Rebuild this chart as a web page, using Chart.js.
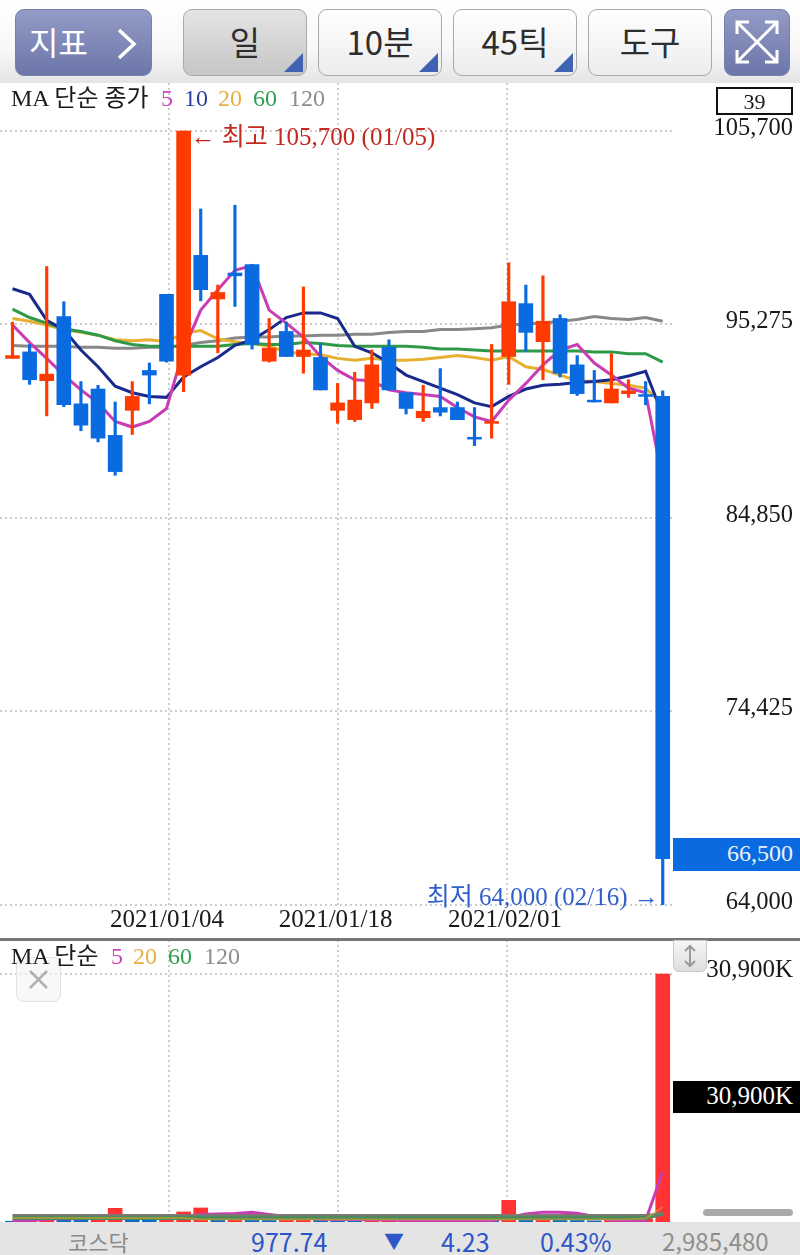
<!DOCTYPE html>
<html lang="ko">
<head>
<meta charset="utf-8">
<title>일봉 차트</title>
<script src="https://cdn.jsdelivr.net/npm/chart.js@4"></script>
<style>
  html, body { margin: 0; padding: 0; background: #fff; }
  #page { position: relative; width: 800px; height: 1255px; overflow: hidden; font-family: "Liberation Serif", "Noto Sans CJK KR", serif; color: #1a1a1a; }
  #page > * { position: absolute; }
  canvas { display: block; }
  #toolbar { left: 0; top: 0; width: 800px; height: 83px; background: linear-gradient(#fff 0%, #f8f8f8 60%, #e4e4e4 100%); }
  .btn { position: absolute; top: 9px; height: 65px; width: 122px; border: 1px solid #a9a9a9; border-radius: 9px; background: linear-gradient(#fff, #ececec); font: 400 33px/62px "Noto Sans CJK KR", sans-serif; color: #2e2e2e; text-align: center; box-sizing: content-box; }
  .btn.on { background: linear-gradient(#e4e4e4, #c6c6c6); }
  .btn.blue { background: linear-gradient(#939bc6, #6c76a8); border-color: #7780ad; color: #fff; }
  .btn i { position: absolute; right: 3px; bottom: 3px; width: 0; height: 0; border-left: 19px solid transparent; border-bottom: 19px solid #3f62b2; }
  .legend { font-size: 24px; line-height: 28px; white-space: nowrap; }
  .tag { left: 673px; width: 120px; padding-right: 7px; text-align: right; font-size: 24px; color: #fff; }
  #statusbar { left: 0; top: 1222px; width: 800px; height: 33px; background: #e4e4e4; }
  #statusbar span { position: absolute; top: 1px; line-height: 36px; font-family: "Noto Sans CJK KR", Roboto, sans-serif; white-space: nowrap; }
</style>
</head>
<body>
<div id="page">
  <canvas id="priceChart" width="800" height="855" style="left:0;top:83px"></canvas>
  <canvas id="volumeChart" width="800" height="282" style="left:0;top:940px"></canvas>

  <div id="toolbar">
    <div class="btn blue" style="left:15px;width:135px;text-align:left;font-size:32px"><span style="position:absolute;left:13px">지표</span>
      <svg style="position:absolute;left:100px;top:18px" width="22" height="32"><polyline points="3,2 18,16 3,30" fill="none" stroke="#fff" stroke-width="3.5"/></svg></div>
    <div class="btn on" style="left:183px">일<i></i></div>
    <div class="btn" style="left:318px">10분<i></i></div>
    <div class="btn" style="left:453px">45틱<i></i></div>
    <div class="btn" style="left:588px">도구</div>
    <div class="btn blue" style="left:724px;width:64px">
      <svg style="position:absolute;left:10px;top:10px" width="44" height="44" fill="none" stroke="#fff" stroke-width="3">
        <path d="M2 14V2H14M30 2H42V14M42 30V42H30M14 42H2V30M3 3L41 41M41 3L3 41"/>
      </svg>
    </div>
  </div>

  <div class="legend" style="left:11px;top:84px">MA 단순 종가</div>
  <div class="legend" style="left:161px;top:84px;color:#cf45b8">5</div>
  <div class="legend" style="left:184px;top:84px;color:#2a3f9e">10</div>
  <div class="legend" style="left:218px;top:84px;color:#e5b040">20</div>
  <div class="legend" style="left:253px;top:84px;color:#2f9e50">60</div>
  <div class="legend" style="left:289px;top:84px;color:#8c8c8c">120</div>
  <div style="left:716px;top:87px;width:73px;height:24px;border:2px solid #111;text-align:center;font-size:22px;line-height:25px">39</div>
  <div class="tag" style="top:838px;height:33px;line-height:31px;background:#0a6be0;color:#e8f1ff">66,500</div>

  <div style="left:0;top:938px;width:800px;height:2.5px;background:#777"></div>
  <div style="left:16px;top:957px;width:43px;height:43px;border:1px solid #e2e2e2;border-radius:8px;background:rgba(244,244,244,.65)">
    <svg width="43" height="43" stroke="#b0b0b0" stroke-width="2.5"><path d="M13 13L30 30M30 13L13 30"/></svg>
  </div>
  <div class="legend" style="left:11px;top:942px">MA 단순</div>
  <div class="legend" style="left:111px;top:942px;color:#cf45b8">5</div>
  <div class="legend" style="left:133px;top:942px;color:#e5b040">20</div>
  <div class="legend" style="left:168px;top:942px;color:#2f9e50">60</div>
  <div class="legend" style="left:204px;top:942px;color:#8c8c8c">120</div>
  <div class="tag" style="top:1081px;height:32px;line-height:30px;background:#000;font-size:25px">30,900K</div>
  <div style="left:673px;top:940px;width:32px;height:30px;border:1px solid #c8c8c8;border-radius:0 0 6px 6px;background:linear-gradient(#f6f6f6,#dedede)">
    <svg width="32" height="30" fill="none" stroke="#9a9a9a" stroke-width="2"><path d="M16 5V25M11 10L16 5L21 10M11 20L16 25L21 20"/></svg>
  </div>
  <div style="left:703px;top:1209px;width:90px;height:7px;border-radius:4px;background:#aaa"></div>

  <div id="statusbar">
    <span style="left:68px;color:#8a8a8a;font-size:22px">코스닥</span>
    <span style="left:251px;color:#2b55c8;font-size:25px">977.74</span>
    <span style="left:384px;color:#2b55c8;font-size:20px">▼</span>
    <span style="left:441px;color:#2b55c8;font-size:25px">4.23</span>
    <span style="left:540px;color:#2b55c8;font-size:25px">0.43%</span>
    <span style="left:662px;color:#8f8f8f;font-size:24px">2,985,480</span>
  </div>
</div>

<script>
const dates = [
  "2020/12/17", "2020/12/18", "2020/12/21", "2020/12/22", "2020/12/23", "2020/12/24", "2020/12/28", "2020/12/29", "2020/12/30",
  "2021/01/04", "2021/01/05", "2021/01/06", "2021/01/07", "2021/01/08", "2021/01/11", "2021/01/12", "2021/01/13", "2021/01/14", "2021/01/15",
  "2021/01/18", "2021/01/19", "2021/01/20", "2021/01/21", "2021/01/22", "2021/01/25", "2021/01/26", "2021/01/27", "2021/01/28", "2021/01/29",
  "2021/02/01", "2021/02/02", "2021/02/03", "2021/02/04", "2021/02/05", "2021/02/08", "2021/02/09", "2021/02/10", "2021/02/15", "2021/02/16"
];
const opens = [93450, 93800, 92250, 95700, 91000, 91800, 89300, 90650, 92800, 96900, 92550, 99000, 96650, 98050, 98500, 93300, 94900, 93550, 93500, 90650, 90150, 91050, 94050, 91600, 90250, 90800, 90800, 89200, 89950, 93550, 96400, 94350, 95600, 93100, 91200, 91050, 91550, 91500, 91400];
const highs = [95400, 94200, 98400, 96500, 92200, 92000, 91100, 92200, 93200, 96900, 105700, 101500, 97400, 101700, 98500, 95600, 95400, 97300, 94250, 92100, 92700, 93900, 94450, 91600, 92000, 92900, 91100, 90800, 94200, 98600, 97400, 97900, 95800, 93600, 92800, 93700, 92300, 92200, 91700];
const lows = [93450, 92050, 90350, 90850, 89550, 88950, 87150, 89350, 91000, 93250, 91650, 96550, 93750, 96250, 93950, 93250, 93550, 92650, 91750, 89950, 90050, 90750, 91750, 90450, 90050, 90350, 90150, 88750, 89150, 92050, 93850, 92300, 92450, 91450, 91100, 91050, 91350, 90950, 64000];
const closes = [93600, 92300, 92600, 90950, 89850, 89150, 87350, 91400, 92550, 93300, 105700, 97150, 97000, 97900, 94200, 94000, 93550, 93900, 91750, 91050, 91200, 93100, 91750, 90750, 90600, 90550, 90150, 89100, 90050, 96500, 94850, 95450, 92650, 91550, 91100, 91800, 91700, 91400, 66500];

const ma5 = [95250, 94300, 93450, 92550, 91750, 91050, 90050, 89750, 90050, 90750, 93900, 96050, 97150, 98200, 98450, 96050, 95350, 94600, 93550, 92800, 92300, 92250, 91750, 91600, 91500, 91400, 90800, 90300, 90050, 91200, 92100, 93100, 93900, 94200, 93200, 92550, 91850, 91600, 86900];
const ma10 = [97200, 96900, 95500, 95000, 93900, 93000, 91950, 91600, 91400, 91350, 92450, 93000, 93500, 94150, 94450, 95000, 95650, 95900, 95900, 95600, 94100, 93750, 93200, 92550, 92200, 91850, 91500, 91050, 90850, 91400, 91800, 92000, 92050, 92150, 92200, 92300, 92500, 92750, 90400];
const ma20 = [95600, 95450, 95250, 95000, 94850, 94700, 94450, 94400, 94450, 94350, 94800, 94950, 94500, 94350, 94250, 94100, 93800, 93700, 93650, 93450, 93350, 93450, 93350, 93350, 93400, 93500, 93600, 93500, 93350, 93550, 93000, 92850, 92550, 92250, 92200, 92100, 92000, 91850, 90950];
const ma60 = [96100, 95650, 95350, 95050, 94900, 94700, 94400, 94200, 94100, 94100, 94100, 94100, 94100, 94200, 94250, 94200, 94200, 94300, 94250, 94150, 94100, 94100, 94100, 94100, 94050, 93950, 93950, 93900, 93850, 93850, 93850, 93850, 93850, 93850, 93800, 93800, 93700, 93700, 93250];
const ma120 = [94150, 94100, 94100, 94100, 94050, 94050, 94000, 94000, 94050, 94050, 94150, 94300, 94400, 94550, 94600, 94600, 94650, 94650, 94700, 94700, 94750, 94750, 94850, 94900, 94900, 95000, 95000, 95050, 95100, 95250, 95300, 95350, 95450, 95550, 95700, 95600, 95550, 95650, 95450];

const volumes = [100, 300, 500, 400, 400, 500, 1700, 400, 400, 600, 1250, 1750, 600, 600, 500, 200, 200, 500, 400, 300, 200, 400, 400, 400, 400, 400, 200, 400, 200, 2700, 500, 500, 400, 200, 150, 400, 400, 400, 30900];
const volumeUp = [0, 1, 1, 0, 0, 1, 1, 0, 0, 1, 1, 1, 0, 1, 0, 0, 1, 1, 0, 0, 0, 1, 1, 1, 1, 1, 0, 1, 0, 1, 0, 1, 0, 0, 0, 1, 1, 1, 1];
const volMa5 = [100, 200, 350, 400, 400, 500, 600, 600, 650, 600, 700, 950, 1000, 1050, 1200, 950, 700, 500, 350, 300, 300, 280, 250, 200, 200, 200, 200, 200, 190, 560, 1000, 1230, 1230, 1100, 700, 190, 190, 190, 6250];
const volMa20 = [500, 500, 500, 500, 500, 500, 500, 500, 500, 500, 500, 300, 300, 300, 300, 300, 300, 300, 300, 300, 300, 300, 300, 300, 300, 300, 300, 300, 300, 300, 300, 300, 300, 300, 300, 300, 300, 430, 1850];
const volMa60 = [530, 530, 530, 530, 530, 530, 530, 530, 530, 530, 530, 530, 530, 530, 530, 530, 530, 530, 530, 530, 530, 530, 530, 530, 530, 530, 530, 530, 530, 530, 530, 530, 530, 530, 530, 530, 530, 530, 1070];
const volMa120 = [870, 870, 870, 870, 870, 870, 870, 870, 870, 870, 870, 870, 870, 870, 870, 870, 870, 870, 870, 870, 870, 870, 870, 870, 870, 870, 870, 870, 870, 870, 870, 870, 870, 870, 870, 870, 870, 870, 1100];

const priceTicks = [64000, 74425, 84850, 95275, 105700];
const volumeTicks = [30900];
const gridPositions = [9.15, 19, 28.9];   // vertical grid sits a hair off the candles in the app
const gridLabels = [dates[9], dates[19], dates[29]];

const RED = "#ff3a00";
const BLUE = "#0a6be0";
const SERIF = '"Liberation Serif", "Noto Sans CJK KR", serif';
const xMin = -0.73;
const xMax = 38.6;

const candleColors = closes.map((c, i) => (c >= opens[i] ? RED : BLUE));
const toXY = (values) => values.map((v, i) => ({ x: i, y: v }));

function maLine(label, values, color, width, order) {
  return { type: "line", label, data: toXY(values), borderColor: color, borderWidth: width, pointRadius: 0, tension: 0, order };
}

const gridStyle = { color: "#cdcdcd", lineWidth: 2, drawTicks: false, offset: false };
const dashStyle = { display: false, dash: [2, 3] };

function xAxis(showLabels, height) {
  return {
    type: "linear",
    offset: false,
    min: xMin,
    max: xMax,
    grid: gridStyle,
    border: dashStyle,
    afterBuildTicks: (scale) => { scale.ticks = gridPositions.map((v) => ({ value: v })); },
    afterFit: (scale) => { scale.height = height; },
    ticks: {
      display: showLabels,
      autoSkip: false,
      maxRotation: 0,
      padding: 0,
      labelOffset: -2,
      color: "#1a1a1a",
      font: { family: SERIF, size: 25 },
      callback: (value, index) => gridLabels[index]
    }
  };
}

function yAxis(tickValues, min, max, fontSize, offset, format) {
  return {
    position: "right",
    min,
    max,
    grid: gridStyle,
    border: dashStyle,
    afterBuildTicks: (scale) => { scale.ticks = tickValues.map((v) => ({ value: v })); },
    afterFit: (scale) => {
      scale.width = 120;
      scale.paddingTop = 0;
      scale.paddingBottom = 0;
    },
    ticks: {
      padding: 0,
      labelOffset: offset,
      crossAlign: "far",
      color: "#1a1a1a",
      font: { family: SERIF, size: fontSize },
      callback: format
    }
  };
}

// high / low call-outs, placed from the data
const extremesPlugin = {
  id: "extremes",
  afterDatasetsDraw(chart) {
    const { ctx, scales: { x, y } } = chart;
    const hi = highs.indexOf(Math.max(...highs));
    const lo = lows.indexOf(Math.min(...lows));
    ctx.save();
    ctx.font = "25px " + SERIF;
    ctx.textBaseline = "middle";
    ctx.fillStyle = "#c4291f";
    ctx.textAlign = "left";
    ctx.fillText("← 최고 " + highs[hi].toLocaleString("en-US") + " (" + dates[hi].slice(5) + ")", x.getPixelForValue(hi) + 7, y.getPixelForValue(highs[hi]) + 7);
    ctx.fillStyle = "#2f5fc9";
    ctx.textAlign = "right";
    ctx.fillText("최저 " + lows[lo].toLocaleString("en-US") + " (" + dates[lo].slice(5) + ") →", x.getPixelForValue(lo) - 4, y.getPixelForValue(lows[lo]) - 7);
    ctx.restore();
  }
};

new Chart(document.getElementById("priceChart"), {
  type: "bar",
  plugins: [extremesPlugin],
  data: {
    datasets: [
      { label: "wick", data: dates.map((d, i) => ({ x: i, y: [lows[i], highs[i]] })), backgroundColor: candleColors, barThickness: 2.5, grouped: false, borderSkipped: false, order: 1 },
      { label: "body", data: dates.map((d, i) => ({ x: i, y: [opens[i], closes[i]] })), backgroundColor: candleColors, barThickness: 14, grouped: false, borderSkipped: false, order: 0 },
      maLine("MA5", ma5, "#c83cb4", 3, 2),
      maLine("MA10", ma10, "#1a2a8c", 3, 3),
      maLine("MA20", ma20, "#e8b030", 3, 5),
      maLine("MA60", ma60, "#2e9a48", 3, 4),
      maLine("MA120", ma120, "#888888", 3, 6)
    ]
  },
  options: {
    responsive: false,
    animation: false,
    layout: { autoPadding: false, padding: { right: 7 } },
    plugins: { legend: { display: false }, tooltip: { enabled: false } },
    scales: {
      x: xAxis(true, 33),
      y: yAxis(priceTicks, 64000, 108286, 24.5, -2.5, (v) => v.toLocaleString("en-US"))
    }
  }
});

new Chart(document.getElementById("volumeChart"), {
  type: "bar",
  data: {
    datasets: [
      { label: "volume", data: toXY(volumes), backgroundColor: volumeUp.map((u) => (u ? "#ff3333" : "#0a6bc8")), barThickness: 14, order: 5 },
      maLine("MA5", volMa5, "#c83cb4", 3, 4),
      maLine("MA20", volMa20, "rgba(232,170,40,.5)", 2, 1),
      maLine("MA60", volMa60, "#4f8a5c", 4.5, 3),
      maLine("MA120", volMa120, "#7a7a72", 2, 2)
    ]
  },
  options: {
    responsive: false,
    animation: false,
    layout: { autoPadding: false, padding: { right: 7 } },
    plugins: { legend: { display: false }, tooltip: { enabled: false } },
    scales: {
      x: xAxis(false, 0),
      y: yAxis(volumeTicks, 0, 35136, 25, -4, (v) => v.toLocaleString("en-US") + "K")
    }
  }
});
</script>
</body>
</html>
